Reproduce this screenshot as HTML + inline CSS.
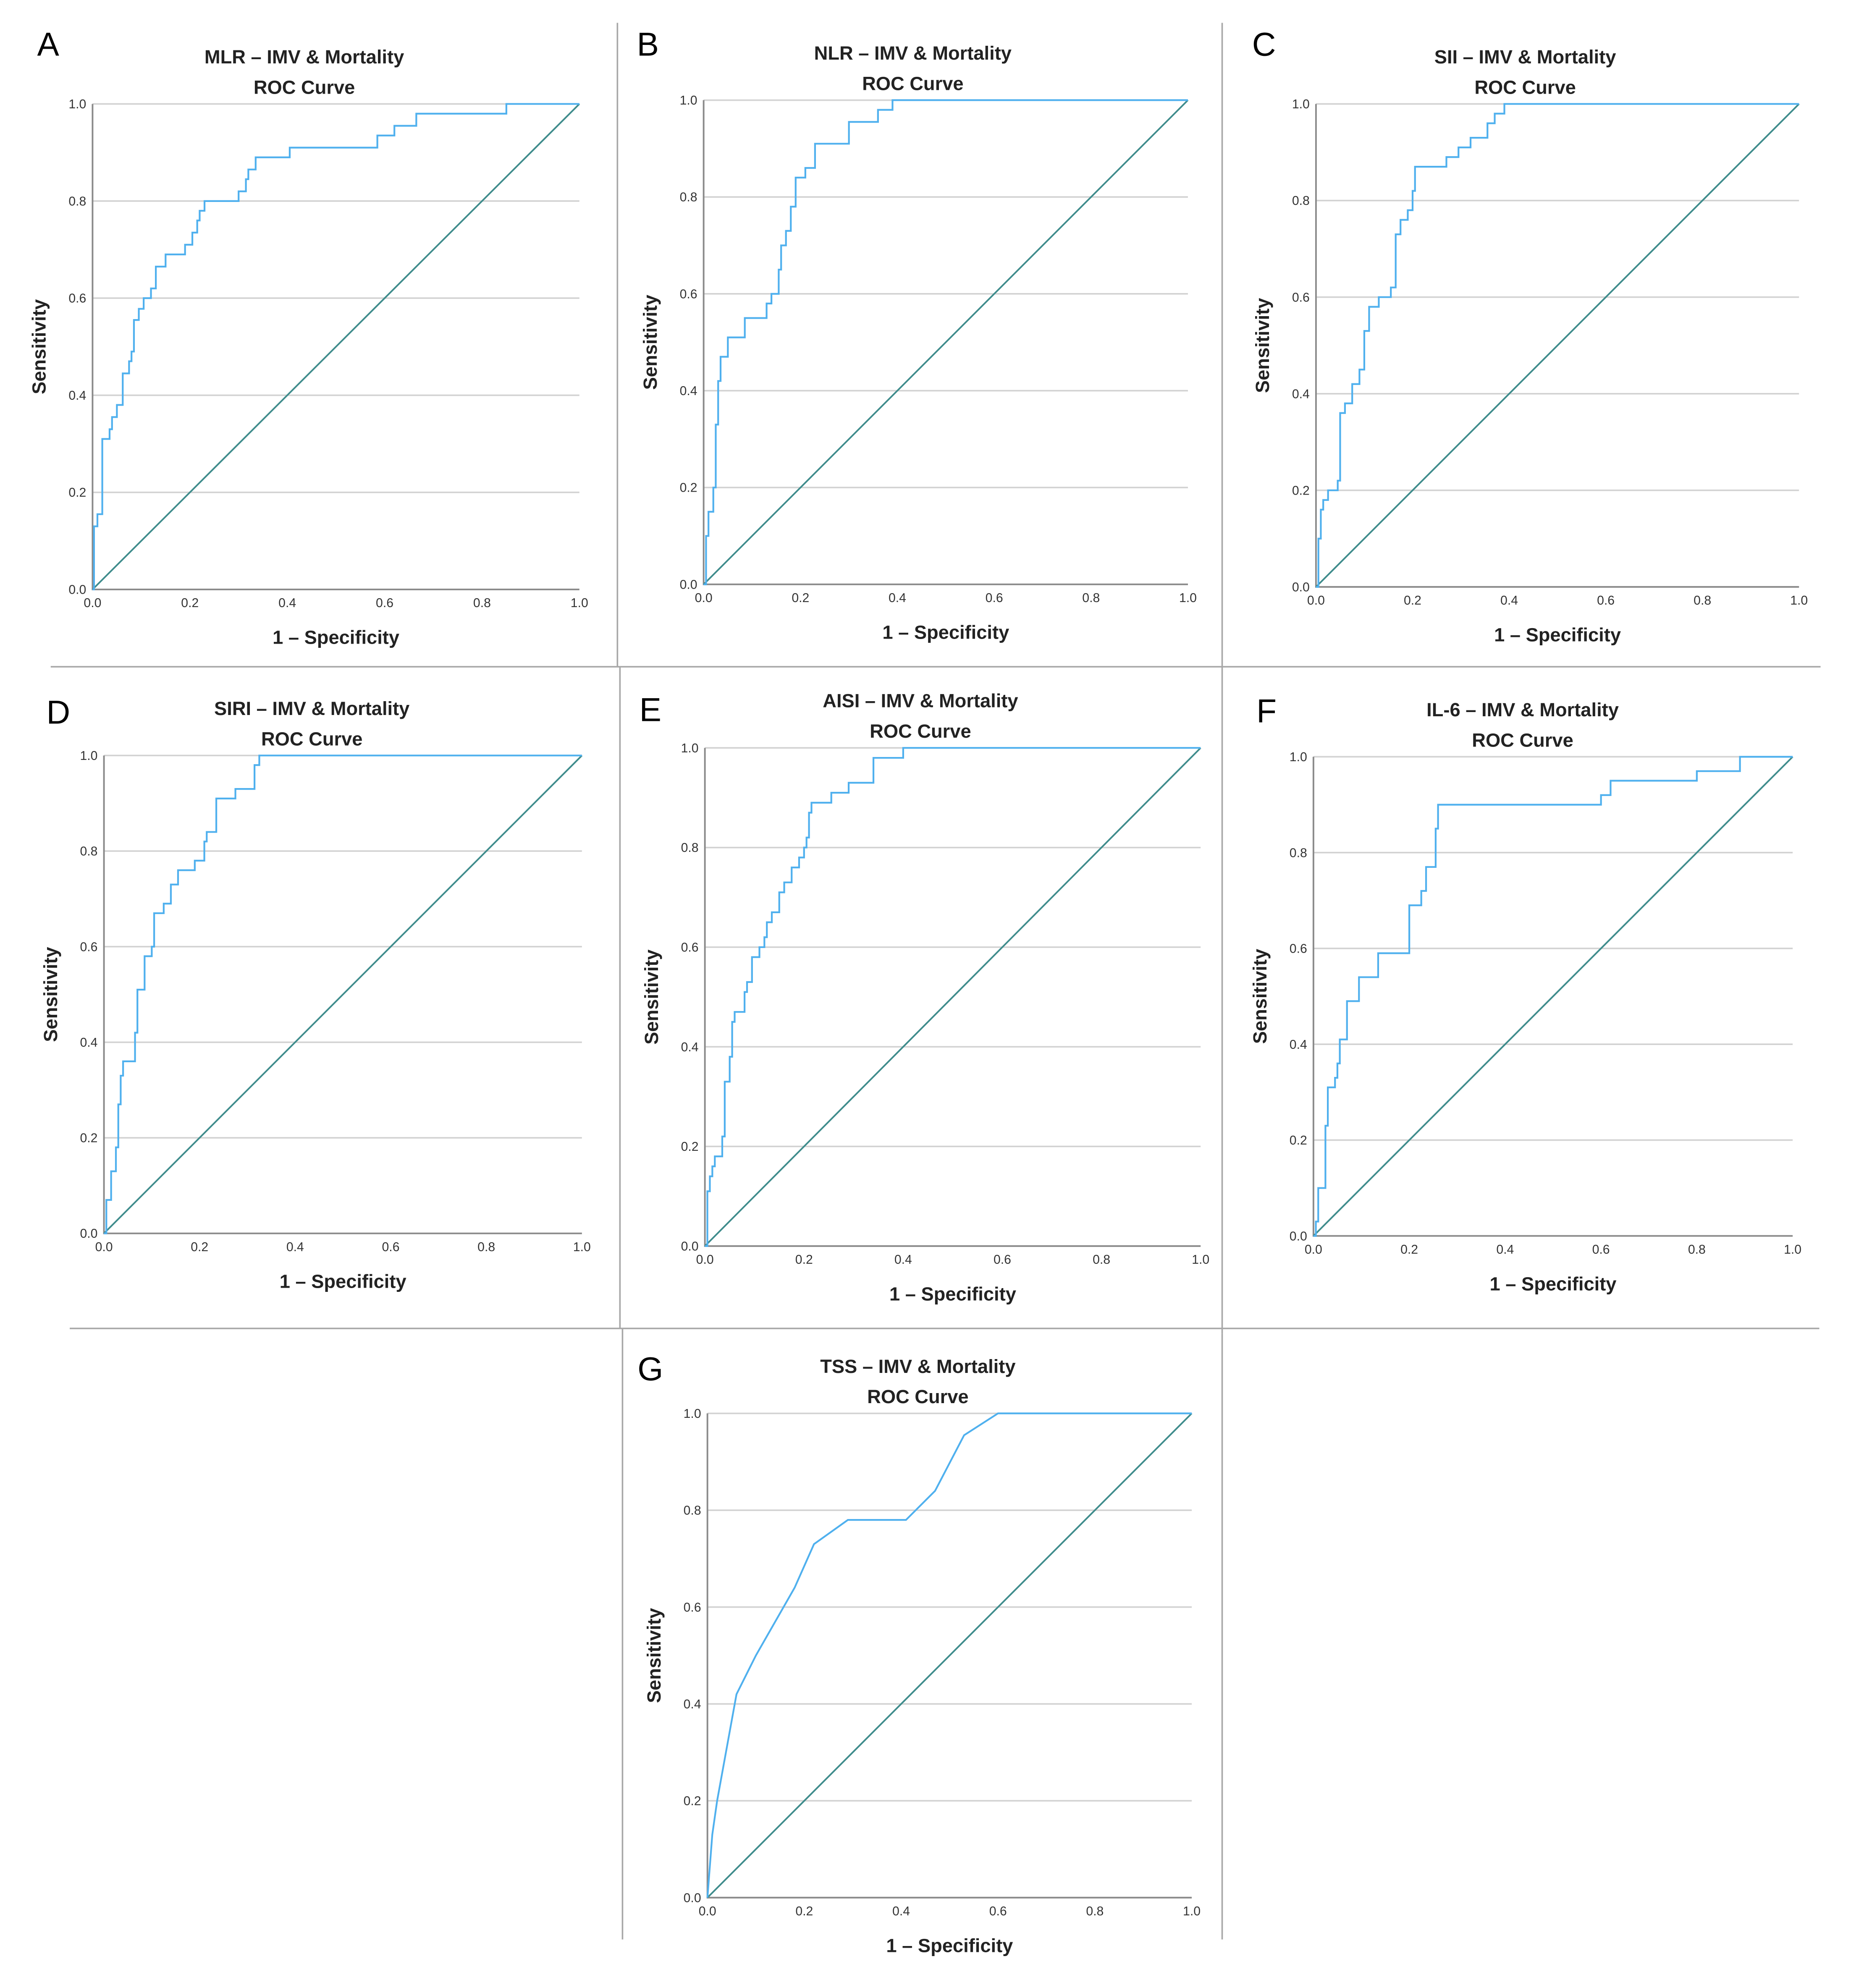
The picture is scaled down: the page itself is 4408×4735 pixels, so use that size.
<!DOCTYPE html>
<html><head><meta charset="utf-8"><style>
html,body{margin:0;padding:0;background:#fff;}
svg{display:block;}
text{font-family:"Liberation Sans",sans-serif;}
</style></head><body>
<svg id="fig" width="4408" height="4735" viewBox="0 0 1460 1568.3" preserveAspectRatio="none" xmlns="http://www.w3.org/2000/svg">
<g stroke="#a8a8a8" stroke-width="1.2">
<line x1="40" y1="526" x2="1436" y2="526"/>
<line x1="487" y1="18" x2="487" y2="526"/>
<line x1="964" y1="18" x2="964" y2="526"/>
<line x1="55" y1="1048" x2="1435" y2="1048"/>
<line x1="489" y1="526" x2="489" y2="1048"/>
<line x1="964" y1="526" x2="964" y2="1052"/>
<line x1="491" y1="1048" x2="491" y2="1530"/>
<line x1="964" y1="1052" x2="964" y2="1530"/>
</g>
</svg>
<script>
// Step-curve data (1 - specificity where step occurs, sensitivity after step)
const fprA=[0.003,0.01,0.02,0.035,0.04,0.05,0.062,0.075,0.08,0.085,0.095,0.105,0.12,0.13,0.15,0.19,0.205,0.215,0.22,0.23,0.30,0.315,0.32,0.335,0.405,0.585,0.62,0.665,0.85];
const tprA=[0.13,0.155,0.31,0.33,0.355,0.38,0.445,0.47,0.49,0.555,0.578,0.6,0.62,0.665,0.69,0.71,0.735,0.76,0.78,0.80,0.82,0.845,0.865,0.89,0.91,0.935,0.955,0.98,1.0];
const fprB=[0.005,0.01,0.02,0.025,0.03,0.035,0.05,0.085,0.13,0.14,0.155,0.16,0.17,0.18,0.19,0.21,0.23,0.30,0.36,0.39];
const tprB=[0.1,0.15,0.2,0.33,0.42,0.47,0.51,0.55,0.58,0.6,0.65,0.7,0.73,0.78,0.84,0.86,0.91,0.955,0.98,1.0];
const fprC=[0.005,0.01,0.015,0.025,0.045,0.05,0.06,0.075,0.09,0.1,0.11,0.13,0.155,0.165,0.175,0.19,0.2,0.205,0.27,0.295,0.32,0.355,0.37,0.39];
const tprC=[0.1,0.16,0.18,0.2,0.22,0.36,0.38,0.42,0.45,0.53,0.58,0.6,0.62,0.73,0.76,0.78,0.82,0.87,0.89,0.91,0.93,0.96,0.98,1.0];
const fprD=[0.005,0.015,0.025,0.03,0.035,0.04,0.065,0.07,0.085,0.1,0.105,0.125,0.14,0.155,0.19,0.21,0.215,0.235,0.275,0.315,0.325];
const tprD=[0.07,0.13,0.18,0.27,0.33,0.36,0.42,0.51,0.58,0.6,0.67,0.69,0.73,0.76,0.78,0.82,0.84,0.91,0.93,0.98,1.0];
const fprE=[0.005,0.01,0.015,0.02,0.035,0.04,0.05,0.055,0.06,0.08,0.085,0.095,0.11,0.12,0.125,0.135,0.15,0.16,0.175,0.19,0.2,0.205,0.21,0.215,0.255,0.29,0.34,0.4];
const tprE=[0.11,0.14,0.16,0.18,0.22,0.33,0.38,0.45,0.47,0.51,0.53,0.58,0.6,0.62,0.65,0.67,0.71,0.73,0.76,0.78,0.8,0.82,0.87,0.89,0.91,0.93,0.98,1.0];
const fprF=[0.005,0.01,0.025,0.03,0.045,0.05,0.055,0.07,0.095,0.135,0.2,0.225,0.235,0.255,0.26,0.6,0.62,0.8,0.89];
const tprF=[0.03,0.1,0.23,0.31,0.33,0.36,0.41,0.49,0.54,0.59,0.69,0.72,0.77,0.85,0.9,0.92,0.95,0.97,1.0];
const fprG=[0,0.01,0.02,0.06,0.1,0.18,0.22,0.29,0.41,0.47,0.53,0.6,1.0];
const tprG=[0,0.13,0.2,0.42,0.5,0.64,0.73,0.78,0.78,0.84,0.955,1.0,1.0];
const tickLabels=["0.0","0.2","0.4","0.6","0.8","1.0"];
const tickValues=[0,0.2,0.4,0.6,0.8,1.0];
const titlesText=["MLR – IMV & Mortality","NLR – IMV & Mortality","SII – IMV & Mortality","SIRI – IMV & Mortality","AISI – IMV & Mortality","IL-6  – IMV & Mortality","TSS – IMV & Mortality"];
const letters=["A","B","C","D","E","F","G"];

const NS="http://www.w3.org/2000/svg";
const svg=document.getElementById('fig');
const panels=[
 {l:73,r:457,t:82,b:465,tx:240,lx:38,ly:37,fpr:fprA,tpr:tprA,step:true},
 {l:555,r:937,t:79,b:461,tx:720,lx:511,ly:37,fpr:fprB,tpr:tprB,step:true},
 {l:1038,r:1419,t:82,b:463,tx:1203,lx:997,ly:37,fpr:fprC,tpr:tprC,step:true},
 {l:82,r:459,t:596,b:973,tx:246,lx:46,ly:564,fpr:fprD,tpr:tprD,step:true},
 {l:556,r:947,t:590,b:983,tx:726,lx:513,ly:562,fpr:fprE,tpr:tprE,step:true},
 {l:1036,r:1414,t:597,b:975,tx:1201,lx:999,ly:563,fpr:fprF,tpr:tprF,step:true},
 {l:558,r:940,t:1115,b:1497,tx:724,lx:513,ly:1082,fpr:fprG,tpr:tprG,step:false}
];
function mk(tag,attrs,parent){const e=document.createElementNS(NS,tag);for(const k in attrs)e.setAttribute(k,attrs[k]);parent.appendChild(e);return e;}
panels.forEach((p,i)=>{
 const g=mk('g',{},svg);
 
 
 const xs=v=>p.l+v*(p.r-p.l), ys=v=>p.b-v*(p.b-p.t);
 const lt=mk('text',{x:p.lx,y:p.ly,'font-size':26,'text-anchor':'middle','dominant-baseline':'middle',fill:'#000'},g);
 lt.textContent=letters[i];
 
 
 const t1=mk('text',{x:p.tx,y:p.t-32,'font-size':15,'font-weight':'bold','text-anchor':'middle',fill:'#222'},g);
 t1.textContent=titlesText[i];
 
 
 const t2=mk('text',{x:p.tx,y:p.t-8,'font-size':15,'font-weight':'bold','text-anchor':'middle',fill:'#222'},g);
 t2.textContent="ROC Curve";
 
 
 tickValues.forEach((v,k)=>{
  if(v>0){const gl=mk('line',{x1:xs(0),x2:xs(1),y1:ys(v),y2:ys(v),stroke:'#d2d2d2','stroke-width':1.2},g);
   
   }
  const yl=mk('text',{x:p.l-5,y:ys(v)+3.5,'font-size':10,'text-anchor':'end',fill:'#333'},g);
  yl.textContent=tickLabels[k];
  
  
  const xl=mk('text',{x:xs(v),y:p.b+14,'font-size':10,'text-anchor':'middle',fill:'#333'},g);
  xl.textContent=tickLabels[k];
  
  
 });
 const ax=mk('path',{d:`M${p.l},${p.t}V${p.b}H${p.r}`,fill:'none',stroke:'#8a8a8a','stroke-width':1.3},g);
 
 
 const dg=mk('line',{x1:xs(0),y1:ys(0),x2:xs(1),y2:ys(1),stroke:'#3f8c8c','stroke-width':1.3},g);
 
 
 let d;
 if(p.step){d=`M${xs(0)},${ys(0)}`;p.fpr.forEach((x,k)=>{d+=`H${xs(x)}V${ys(p.tpr[k])}`;});d+=`H${xs(1)}`;}
 else{d=p.fpr.map((x,k)=>(k?'L':'M')+xs(x)+','+ys(p.tpr[k])).join('');}
 const c=mk('path',{d:d,fill:'none',stroke:'#4fb0ee','stroke-width':1.4},g);
 
 
 const xt=mk('text',{x:(p.l+p.r)/2,y:p.b+43,'font-size':15,'font-weight':'bold','text-anchor':'middle',fill:'#222'},g);
 xt.textContent="1 – Specificity";
 
 
 const cy=(p.t+p.b)/2, cx=p.l-37;
 const yt=mk('text',{x:cx,y:cy,'font-size':15,'font-weight':'bold','text-anchor':'middle',transform:`rotate(-90 ${cx} ${cy})`,fill:'#222'},g);
 yt.textContent="Sensitivity";
 
 
});
</script>
</body></html>
